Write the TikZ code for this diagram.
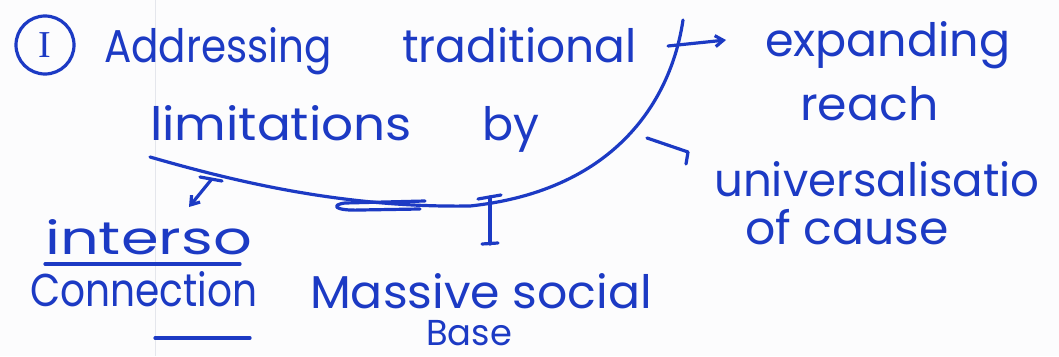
\documentclass[tikz,border=0pt]{standalone}
\usepackage{fontspec}
\setmainfont{Poppins}
\newfontfamily\numfont{Liberation Serif}
\usetikzlibrary{arrows.meta}
\definecolor{ink}{RGB}{28,58,196}
\definecolor{paper}{RGB}{252,252,253}
\definecolor{rule}{RGB}{228,230,236}
\newcommand\widen[2]{\scalebox{#1}[1]{#2}}
\tikzset{
  pen/.style={draw=ink,line width=3.2pt,line cap=round,line join=round},
  word/.style={text=ink,anchor=base west,inner sep=0pt,font=\fontsize{46}{48}\selectfont},
  tip/.style={-{Straight Barb[length=8pt,width=11pt]}}
}
\begin{document}
\begin{tikzpicture}[x=1pt,y=-1pt]
% sheet
\fill[paper] (0,0) rectangle (1059,356);
\useasboundingbox (0,0) rectangle (1059,356);
\draw[rule,line width=1pt] (155,0) -- (155,356);

% numbered heading
\node[circle,pen,minimum size=58pt,inner sep=0pt,text=ink,font=\numfont\fontsize{38}{40}\selectfont] (num) at (45,45) {I};
\node[word] (w1) at (104,62) {\widen{0.88}{Addressing}};
\node[word] (w2) at (402,62) {\widen{0.99}{traditional}};
\node[word] (w3) at (150,140) {\widen{1.09}{limitations}};
\node[word] (w4) at (482,140) {by};

% branch labels
\node[word] (e1) at (765,56) {\widen{1.0}{expanding}};
\node[word] (e2) at (800,120) {\widen{1.03}{reach}};
\node[word] (u1) at (714,196) {\widen{0.98}{universalisatio}};
\node[word] (u2) at (745,244) {\widen{1.03}{of cause}};
\node[word] (i1) at (45,254) {\widen{1.32}{interso}};
\node[word] (i2) at (30,306) {\widen{0.85}{Connection}};
\node[word] (m1) at (310,308) {\widen{1.03}{Massive social}};
\node[word,font=\fontsize{36}{38}\selectfont] (m2) at (426,345) {\widen{0.98}{Base}};

% underlines
\coordinate (ua) at (45,264);
\coordinate (ub) at (240,264);
\coordinate (uc) at (155,338);
\coordinate (ud) at (250,338);
\draw[pen] (ua) -- (ub);
\draw[pen] (uc) -- (ud);

% bracket curve round the heading
\coordinate (top) at (683,20);
\coordinate (low) at (470,206);
\coordinate (left) at (150,157);
\draw[pen] (top) .. controls (672,95) and (620,190) .. (low)
  .. controls (340,208) and (230,180) .. (left);
\draw[pen] (425,201) -- (345,203) .. controls (330,205) and (335,211) .. (360,210) -- (420,209);

% branch to "expanding reach"
\coordinate (eA) at (668,46);
\coordinate (eB) at (726,40);
\draw[pen,tip] (eA) -- (eB);

% branch to "universalisatio of cause"
\coordinate (uA) at (647,138);
\coordinate (uB) at (688,152);
\coordinate (uC) at (686,164);
\draw[pen] (uA) -- (uB) -- (uC);

% branch to "interso connection"
\coordinate (iA) at (211,180);
\coordinate (iB) at (189,207);
\draw[pen] (200,177) -- (222,181);
\draw[pen,tip] (iA) -- (iB);

% branch to "massive social base"
\coordinate (mA) at (490,197);
\coordinate (mB) at (490,244);
\draw[pen] (478,199) -- (501,195);
\draw[pen] (mA) -- (mB);
\draw[pen] (482,244) -- (498,243);
\end{tikzpicture}
\end{document}
